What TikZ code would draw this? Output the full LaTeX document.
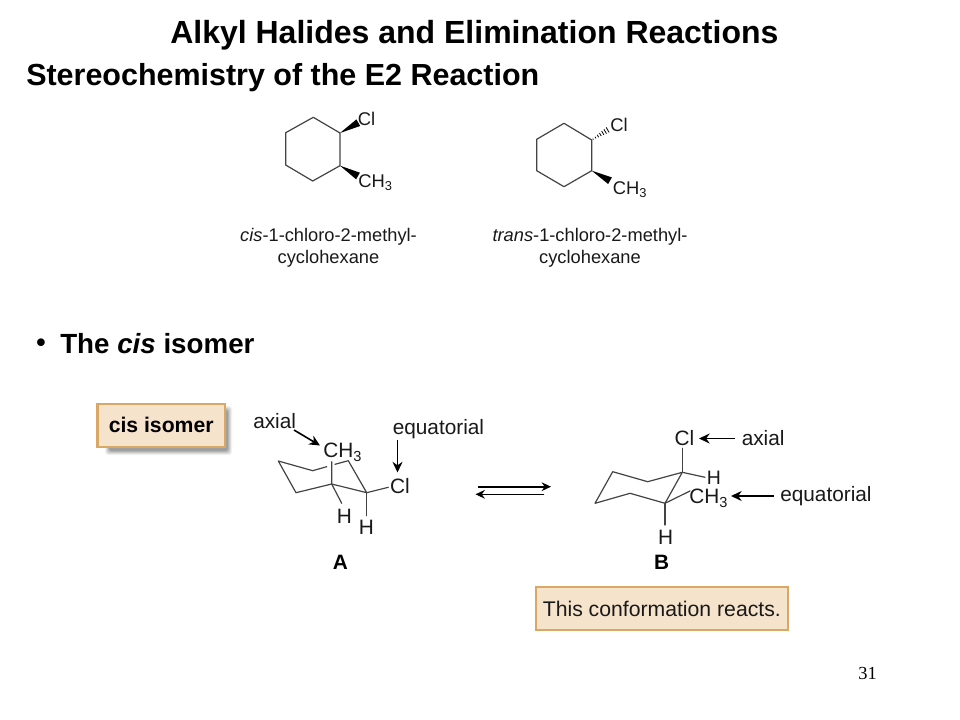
\documentclass[tikz,border=0pt]{standalone}
\usepackage{fontspec}
\setmainfont{Liberation Sans}
\newfontfamily\serifnum{Liberation Serif}
\usetikzlibrary{arrows.meta,calc}
\definecolor{boxfill}{HTML}{F6E3CC}
\definecolor{boxline}{HTML}{DBA765}
\definecolor{bondgray}{HTML}{444444}
\newcommand{\fs}[1]{\fontsize{#1}{#1}\selectfont}
\tikzset{
  x=0.75pt,y=-0.75pt,
  titletext/.style={inner sep=0pt,anchor=west,font=\fs{24}\bfseries,text=black},
  chem/.style={inner sep=0pt,font=\fs{15.6},text=black!90},
  chemsmall/.style={inner sep=0pt,font=\fs{13.8},text=black!90},
  namelabel/.style={inner sep=0pt,font=\fs{13.7},text=black!90,align=center},
  bond/.style={draw=bondgray,line width=0.9pt,line join=round,line cap=round},
  solidwedge/.style={fill=black,draw=none},
  hashbond/.style={draw=black,line width=0.6pt},
  pointer/.style={draw=black,line width=1.2pt,-{Stealth[length=8pt,width=7.5pt]}},
  equil/.style={draw=black,line width=1.2pt,-{Stealth[length=7pt,width=6.5pt]}},
  tagbox/.style={draw=boxline,line width=1.6pt,fill=boxfill},
}
\begin{document}
\begin{tikzpicture}
\useasboundingbox (0,0) rectangle (960,720);
\fill[white] (0,0) rectangle (960,720);
% headings
\node[titletext] (title) at (170,35.5) {Alkyl Halides and Elimination Reactions};
\node[titletext,font=\fs{22.85}\bfseries] (subtitle) at (26,78) {Stereochemistry of the E2 Reaction};
\node[titletext,font=\fs{20}\bfseries] (bullet) at (36,345.2) {•};
\node[titletext,font=\fs{20.8}\bfseries] (bullettext) at (60,343.5) {The \textit{cis} isomer};
\node[inner sep=0pt,font=\fs{13.8}\serifnum] (pagenum) at (867.5,673) {31};

% molecule 1
\foreach \n/\p in {a/{340,133},b/{313.3,117.3},c/{285.7,132.7},d/{285.7,165},e/{312.7,181},f/{340,165.7}}{
  \coordinate (m1\n) at (\p);}
\draw[bond] (m1a)--(m1b)--(m1c)--(m1d)--(m1e)--(m1f)--cycle;
\node[chemsmall] (m1cl) at (366.5,119) {Cl};
\node[chemsmall,anchor=west] (m1me) at (358,183) {CH\textsubscript{3}};
\coordinate (m1w1) at (358.3,122.7);
\coordinate (m1w2) at (358,176);
\fill[solidwedge] (m1a) -- ([shift={(-1.9,-3.3)}]m1w1) -- ([shift={(1.9,3.3)}]m1w1) -- cycle;
\fill[solidwedge] (m1f) -- ([shift={(1.9,-3.3)}]m1w2) -- ([shift={(-1.9,3.3)}]m1w2) -- cycle;
\node[namelabel] (m1name) at (328.5,248) {\textit{cis}-1-chloro-2-methyl-\\[3.2pt]cyclohexane};

% molecule 2
\foreach \n/\p in {a/{591.7,140},b/{564,123.3},c/{536.7,139.3},d/{536.7,170.7},e/{564,186.7},f/{591.7,170.7}}{
  \coordinate (m2\n) at (\p);}
\draw[bond] (m2a)--(m2b)--(m2c)--(m2d)--(m2e)--(m2f)--cycle;
\node[chemsmall] (m2cl) at (619,125) {Cl};
\node[chemsmall,anchor=west] (m2me) at (612.5,190) {CH\textsubscript{3}};
\coordinate (m2w2) at (610,180.7);
\coordinate (m2w1) at (609,129);
\fill[solidwedge] (m2f) -- ([shift={(1.9,-3.3)}]m2w2) -- ([shift={(-1.9,3.3)}]m2w2) -- cycle;
\foreach \t/\h in {0.08/0.6,0.22/1.0,0.36/1.4,0.5/1.8,0.64/2.2,0.78/2.6,0.92/3.0}{
  \draw[hashbond] ($(m2a)!\t!(m2w1)+(-0.5*\h,-0.85*\h)$) -- ($(m2a)!\t!(m2w1)+(0.5*\h,0.85*\h)$);}
\node[namelabel] (m2name) at (590,248) {\textit{trans}-1-chloro-2-methyl-\\[3.2pt]cyclohexane};

% cis isomer tag
\foreach \g/\o in {4/0.05,3/0.07,2/0.09,1/0.10,0/0.12}{
  \fill[black,opacity=\o,rounded corners=2pt] (109-\g,410-\g) rectangle (228+\g,451+\g);}
\node[tagbox,minimum width=95.5pt,minimum height=32pt,inner sep=0pt,font=\fs{15.9}\bfseries,text=black] (cistag) at (161.2,425.4) {cis isomer};

% conformer A
\foreach \n/\p in {a/{278.3,461},b/{312.7,470.7},c/{326.7,466.7},d/{335,464.3},e/{348.3,460.7},f/{366.7,492.7},g/{331.7,484},h/{296,492.7},i/{331.7,461.7},j/{341.7,503.3},k/{366.7,515.7},l/{388.3,487.3}}{
  \coordinate (ca\n) at (\p);}
\draw[bond] (cad)--(cae)--(caf)--(cag)--(cah)--(caa)--(cab)--(cac);
\draw[bond] (cai)--(cag)--(caj);
\draw[bond] (caf)--(cak);
\draw[bond] (caf)--(cal);
\node[chem,anchor=west] (acme) at (323,452.5) {CH\textsubscript{3}};
\node[chem] (acl) at (400,486) {Cl};
\node[chem] (ah1) at (344.5,516) {H};
\node[chem] (ah2) at (366.5,527) {H};
\node[chem,anchor=west] (aaxial) at (253,421) {axial};
\node[chem,anchor=west] (aeq) at (392.5,429) {equatorial};
\coordinate (aax1) at (294,430);
\coordinate (aax2) at (320,445.5);
\draw[pointer] (aax1)--(aax2);
\coordinate (aeq1) at (397.5,440);
\coordinate (aeq2) at (397.5,472.5);
\draw[pointer] (aeq1)--(aeq2);
\node[inner sep=0pt,font=\fs{15.6}\bfseries] (labela) at (340.3,562) {A};

% equilibrium arrows
\coordinate (eq1) at (478,486.7);
\coordinate (eq2) at (551,486.7);
\coordinate (eq3) at (544,494.3);
\coordinate (eq4) at (475.5,494.3);
\draw[equil] (eq1)--(eq2);
\draw[equil] (eq3)--(eq4);

% conformer B
\foreach \n/\p in {a/{595,503.3},b/{612.7,471.7},c/{647.7,481.7},d/{682.3,472.3},e/{665,503.3},f/{630,493.3},g/{682.3,448.3},h/{705,477.3},i/{690,491},j/{665,525}}{
  \coordinate (cb\n) at (\p);}
\draw[bond] (cba)--(cbb)--(cbc)--(cbd)--(cbe)--(cbf)--cycle;
\draw[bond] (cbd)--(cbg);
\draw[bond] (cbd)--(cbh);
\draw[bond] (cbe)--(cbi);
\draw[bond] (cbe)--(cbj);
\node[chem] (bcl) at (684.5,438.5) {Cl};
\node[chem,font=\fs{14.6}] (bh1) at (714,477.5) {H};
\node[chem,anchor=west] (bme) at (689,498.5) {CH\textsubscript{3}};
\node[chem] (bh2) at (665.7,537.5) {H};
\node[chem,anchor=west] (baxial) at (741.5,438.5) {axial};
\node[chem,anchor=west] (beq) at (780,496.5) {equatorial};
\coordinate (bax1) at (735,438.5);
\coordinate (bax2) at (699,438.5);
\coordinate (beq1) at (773.5,496);
\coordinate (beq2) at (731,496);
\draw[pointer] (bax1)--(bax2);
\draw[pointer] (beq1)--(beq2);
\node[inner sep=0pt,font=\fs{15.6}\bfseries] (labelb) at (661.7,562) {B};

% reacts tag
\node[tagbox,minimum width=188.8pt,minimum height=32.5pt,inner sep=0pt,font=\fs{15.9},text=black!90] (reacts) at (661.8,608.5) {This conformation reacts.};
\end{tikzpicture}
\end{document}
